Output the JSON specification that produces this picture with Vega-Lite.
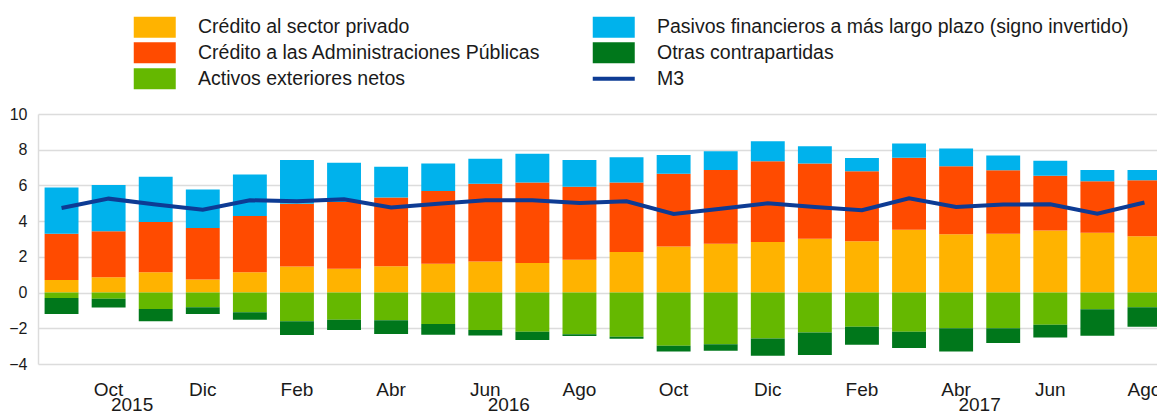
{
  "$schema": "https://vega.github.io/schema/vega-lite/v6.json",
  "autosize": {"type": "none"},
  "padding": {"left": 38, "top": 114, "right": 0, "bottom": 49},
  "width": 1119,
  "height": 250,
  "background": "white",
  "config": {
    "view": {"stroke": null},
    "font": "Liberation Sans",
    "axis": {"labelFont": "Liberation Sans", "labelColor": "#1a1a1a", "title": null},
    "legend": {"labelFont": "Liberation Sans"}
  },
  "data": {
    "values": [
      {"mes": "2015-09", "Crédito al sector privado": 0.71, "Crédito a las Administraciones Públicas": 2.59, "Pasivos financieros a más largo plazo (signo invertido)": 2.58, "Activos exteriores netos": -0.30, "Otras contrapartidas": -0.90, "M3": 4.74},
      {"mes": "2015-10", "Crédito al sector privado": 0.86, "Crédito a las Administraciones Públicas": 2.57, "Pasivos financieros a más largo plazo (signo invertido)": 2.60, "Activos exteriores netos": -0.34, "Otras contrapartidas": -0.50, "M3": 5.26},
      {"mes": "2015-11", "Crédito al sector privado": 1.14, "Crédito a las Administraciones Públicas": 2.81, "Pasivos financieros a más largo plazo (signo invertido)": 2.53, "Activos exteriores netos": -0.92, "Otras contrapartidas": -0.69, "M3": 4.93},
      {"mes": "2015-12", "Crédito al sector privado": 0.73, "Crédito a las Administraciones Públicas": 2.88, "Pasivos financieros a más largo plazo (signo invertido)": 2.16, "Activos exteriores netos": -0.82, "Otras contrapartidas": -0.38, "M3": 4.64},
      {"mes": "2016-01", "Crédito al sector privado": 1.14, "Crédito a las Administraciones Públicas": 3.15, "Pasivos financieros a más largo plazo (signo invertido)": 2.32, "Activos exteriores netos": -1.10, "Otras contrapartidas": -0.42, "M3": 5.17},
      {"mes": "2016-02", "Crédito al sector privado": 1.46, "Crédito a las Administraciones Públicas": 3.52, "Pasivos financieros a más largo plazo (signo invertido)": 2.44, "Activos exteriores netos": -1.61, "Otras contrapartidas": -0.77, "M3": 5.11},
      {"mes": "2016-03", "Crédito al sector privado": 1.33, "Crédito a las Administraciones Públicas": 3.74, "Pasivos financieros a más largo plazo (signo invertido)": 2.20, "Activos exteriores netos": -1.52, "Otras contrapartidas": -0.58, "M3": 5.22},
      {"mes": "2016-04", "Crédito al sector privado": 1.48, "Crédito a las Administraciones Públicas": 3.84, "Pasivos financieros a más largo plazo (signo invertido)": 1.72, "Activos exteriores netos": -1.55, "Otras contrapartidas": -0.77, "M3": 4.76},
      {"mes": "2016-05", "Crédito al sector privado": 1.61, "Crédito a las Administraciones Públicas": 4.08, "Pasivos financieros a más largo plazo (signo invertido)": 1.54, "Activos exteriores netos": -1.76, "Otras contrapartidas": -0.60, "M3": 4.98},
      {"mes": "2016-06", "Crédito al sector privado": 1.74, "Crédito a las Administraciones Públicas": 4.35, "Pasivos financieros a más largo plazo (signo invertido)": 1.40, "Activos exteriores netos": -2.10, "Otras contrapartidas": -0.30, "M3": 5.17},
      {"mes": "2016-07", "Crédito al sector privado": 1.65, "Crédito a las Administraciones Públicas": 4.51, "Pasivos financieros a más largo plazo (signo invertido)": 1.61, "Activos exteriores netos": -2.19, "Otras contrapartidas": -0.47, "M3": 5.17},
      {"mes": "2016-08", "Crédito al sector privado": 1.84, "Crédito a las Administraciones Públicas": 4.08, "Pasivos financieros a más largo plazo (signo invertido)": 1.50, "Activos exteriores netos": -2.34, "Otras contrapartidas": -0.09, "M3": 5.02},
      {"mes": "2016-09", "Crédito al sector privado": 2.27, "Crédito a las Administraciones Públicas": 3.89, "Pasivos financieros a más largo plazo (signo invertido)": 1.42, "Activos exteriores netos": -2.47, "Otras contrapartidas": -0.11, "M3": 5.11},
      {"mes": "2016-10", "Crédito al sector privado": 2.58, "Crédito a las Administraciones Públicas": 4.07, "Pasivos financieros a más largo plazo (signo invertido)": 1.05, "Activos exteriores netos": -2.98, "Otras contrapartidas": -0.32, "M3": 4.40},
      {"mes": "2016-11", "Crédito al sector privado": 2.73, "Crédito a las Administraciones Públicas": 4.14, "Pasivos financieros a más largo plazo (signo invertido)": 1.05, "Activos exteriores netos": -2.90, "Otras contrapartidas": -0.36, "M3": 4.70},
      {"mes": "2016-12", "Crédito al sector privado": 2.83, "Crédito a las Administraciones Públicas": 4.53, "Pasivos financieros a más largo plazo (signo invertido)": 1.12, "Activos exteriores netos": -2.57, "Otras contrapartidas": -0.97, "M3": 5.00},
      {"mes": "2017-01", "Crédito al sector privado": 3.01, "Crédito a las Administraciones Públicas": 4.22, "Pasivos financieros a más largo plazo (signo invertido)": 0.97, "Activos exteriores netos": -2.23, "Otras contrapartidas": -1.27, "M3": 4.79},
      {"mes": "2017-02", "Crédito al sector privado": 2.88, "Crédito a las Administraciones Públicas": 3.92, "Pasivos financieros a más largo plazo (signo invertido)": 0.73, "Activos exteriores netos": -1.91, "Otras contrapartidas": -1.01, "M3": 4.61},
      {"mes": "2017-03", "Crédito al sector privado": 3.52, "Crédito a las Administraciones Públicas": 4.03, "Pasivos financieros a más largo plazo (signo invertido)": 0.80, "Activos exteriores netos": -2.19, "Otras contrapartidas": -0.92, "M3": 5.28},
      {"mes": "2017-04", "Crédito al sector privado": 3.26, "Crédito a las Administraciones Públicas": 3.82, "Pasivos financieros a más largo plazo (signo invertido)": 0.99, "Activos exteriores netos": -2.00, "Otras contrapartidas": -1.30, "M3": 4.79},
      {"mes": "2017-05", "Crédito al sector privado": 3.30, "Crédito a las Administraciones Públicas": 3.55, "Pasivos financieros a más largo plazo (signo invertido)": 0.83, "Activos exteriores netos": -2.00, "Otras contrapartidas": -0.83, "M3": 4.93},
      {"mes": "2017-06", "Crédito al sector privado": 3.48, "Crédito a las Administraciones Públicas": 3.06, "Pasivos financieros a más largo plazo (signo invertido)": 0.84, "Activos exteriores netos": -1.80, "Otras contrapartidas": -0.71, "M3": 4.94},
      {"mes": "2017-07", "Crédito al sector privado": 3.35, "Crédito a las Administraciones Públicas": 2.89, "Pasivos financieros a más largo plazo (signo invertido)": 0.63, "Activos exteriores netos": -0.94, "Otras contrapartidas": -1.48, "M3": 4.42},
      {"mes": "2017-08", "Crédito al sector privado": 3.15, "Crédito a las Administraciones Públicas": 3.14, "Pasivos financieros a más largo plazo (signo invertido)": 0.58, "Activos exteriores netos": -0.82, "Otras contrapartidas": -1.09, "M3": 5.04}
    ]
  },
  "layer": [
    {
      "transform": [
        {"fold": ["Crédito al sector privado", "Crédito a las Administraciones Públicas", "Pasivos financieros a más largo plazo (signo invertido)", "Activos exteriores netos", "Otras contrapartidas"], "as": ["serie", "valor"]},
        {"calculate": "indexof(['Crédito al sector privado','Crédito a las Administraciones Públicas','Pasivos financieros a más largo plazo (signo invertido)','Activos exteriores netos','Otras contrapartidas'], datum.serie)", "as": "orden"}
      ],
      "mark": {"type": "bar"},
      "encoding": {
        "x": {
          "field": "mes", "type": "ordinal",
          "scale": {"range": [0, 1130], "paddingInner": 0.28, "paddingOuter": 0.14},
          "axis": {
            "orient": "bottom",
            "values": ["2015-10", "2015-12", "2016-02", "2016-04", "2016-06", "2016-08", "2016-10", "2016-12", "2017-02", "2017-04", "2017-06", "2017-08"],
            "labelExpr": "['Ene','Feb','Mar','Abr','May','Jun','Jul','Ago','Sep','Oct','Nov','Dic'][toNumber(substring(datum.value,5,7))-1]",
            "labelAngle": 0, "labelFontSize": 19, "labelPadding": 16,
            "ticks": false, "tickSize": 0, "domain": false, "grid": false, "title": null
          }
        },
        "y": {
          "field": "valor", "type": "quantitative", "stack": "zero",
          "scale": {"domain": [-4, 10], "nice": false},
          "axis": {
            "values": [-4, -2, 0, 2, 4, 6, 8, 10],
            "labelFontSize": 16, "labelPadding": 11, "labelOverlap": false,
            "ticks": false, "tickSize": 0,
            "domain": true, "domainColor": "#DCDCDC", "domainWidth": 1.5,
            "grid": true, "gridColor": "#DCDCDC", "gridWidth": 1.5, "title": null
          }
        },
        "color": {
          "field": "serie", "type": "nominal",
          "scale": {
            "domain": ["Crédito al sector privado", "Crédito a las Administraciones Públicas", "Activos exteriores netos", "Pasivos financieros a más largo plazo (signo invertido)", "Otras contrapartidas", "M3"],
            "range": ["#FFB300", "#FF4B00", "#65B800", "#00B2EC", "#00771B", "#0D3B94"]
          },
          "legend": {
            "orient": "none", "legendX": 107, "legendY": -97,
            "columns": 2, "columnPadding": 43, "rowPadding": 4, "padding": 0,
            "title": null, "labelFontSize": 19.5, "labelColor": "#1a1a1a", "labelLimit": 600,
            "symbolSize": 441, "labelOffset": 33.5,
            "encode": {
              "symbols": {
                "update": {
                  "shape": {"signal": "datum.value === 'M3' ? 'M-2,0H2' : 'M-2,-1H2V1H-2Z'"},
                  "fill": {"signal": "datum.value === 'M3' ? 'transparent' : scale('color', datum.value)"},
                  "stroke": {"signal": "datum.value === 'M3' ? '#0D3B94' : 'transparent'"},
                  "strokeWidth": {"signal": "datum.value === 'M3' ? 4 : 0"},
                  "opacity": {"value": 1}
                }
              }
            }
          }
        },
        "order": {"field": "orden", "type": "quantitative"}
      }
    },
    {
      "mark": {"type": "line", "strokeWidth": 4},
      "encoding": {
        "x": {
          "field": "mes", "type": "ordinal",
          "axis": {
            "orient": "bottom",
            "values": ["2015-10", "2016-06", "2017-04"],
            "labelExpr": "substring(datum.value,0,4)",
            "labelAngle": 0, "labelFontSize": 19, "labelPadding": 31, "labelOffset": 23.5,
            "ticks": false, "tickSize": 0, "domain": false, "grid": false, "title": null
          }
        },
        "y": {
          "field": "M3", "type": "quantitative",
          "axis": {
            "values": [-4, -2, 0, 2, 4, 6, 8, 10],
            "labelFontSize": 16, "labelPadding": 11, "labelOverlap": false,
            "ticks": false, "tickSize": 0,
            "domain": true, "domainColor": "#DCDCDC", "domainWidth": 1.5,
            "grid": true, "gridColor": "#DCDCDC", "gridWidth": 1.5, "title": null
          }
        },
        "color": {"datum": "M3"}
      }
    }
  ],
  "resolve": {"axis": {"x": "independent"}}
}
